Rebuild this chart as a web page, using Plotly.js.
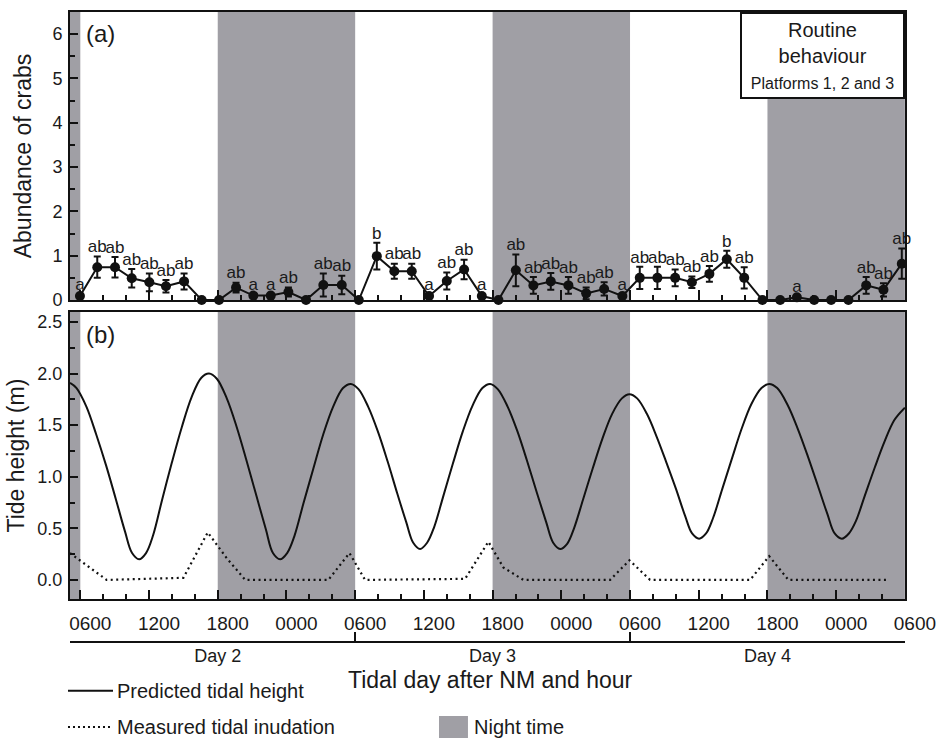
<!DOCTYPE html>
<html>
<head>
<meta charset="utf-8">
<script src="https://cdn.plot.ly/plotly-3.0.1.min.js"></script>
<style>html,body{margin:0;padding:0;background:#fff;}</style>
</head>
<body>
<div id="chart" style="width:940px;height:738px;"></div>
<script>
// ---- Panel (a): abundance of crabs (hours since 00:00 of tidal day 2) ----
const sampleHours = [5.97, 7.48, 9.03, 10.49, 12.03, 13.48, 15.06, 16.60, 18.11, 19.60, 21.11, 22.63,
  24.17, 25.71, 27.22, 28.83, 30.32, 31.89, 33.42, 34.94, 36.45, 38.00, 39.51, 41.06,
  42.51, 44.03, 45.56, 47.08, 48.62, 50.17, 51.74, 53.33, 54.85, 56.39, 57.94, 59.40,
  60.93, 62.45, 63.97, 65.56, 67.11, 68.57, 70.08, 71.56, 73.07, 74.62, 76.13, 77.73];
const abundance = [0.09, 0.74, 0.74, 0.49, 0.40, 0.31, 0.42, 0, 0, 0.28, 0.10, 0.10,
  0.18, 0, 0.34, 0.34, 0, 0.99, 0.65, 0.65, 0.09, 0.43, 0.69, 0.09,
  0, 0.67, 0.33, 0.42, 0.33, 0.15, 0.25, 0.09, 0.50, 0.50, 0.50, 0.40,
  0.59, 0.92, 0.50, 0, 0, 0.06, 0, 0, 0, 0.33, 0.23, 0.82];
const abundanceErr = [0.04, 0.24, 0.23, 0.21, 0.20, 0.14, 0.18, 0, 0, 0.11, 0.04, 0.04,
  0.10, 0, 0.26, 0.21, 0, 0.30, 0.17, 0.17, 0.04, 0.19, 0.22, 0.04,
  0, 0.36, 0.19, 0.19, 0.19, 0.13, 0.15, 0.04, 0.25, 0.25, 0.19, 0.13,
  0.18, 0.19, 0.24, 0, 0, 0.03, 0, 0, 0, 0.19, 0.15, 0.34];
const groupLetters = ['a','ab','ab','ab','ab','ab','ab','','','ab','a','a',
  'ab','','ab','ab','','b','ab','ab','a','ab','ab','a',
  '','ab','ab','ab','ab','ab','ab','a','ab','ab','ab','ab',
  'ab','b','ab','','','a','','','','ab','ab','ab'];

// ---- Panel (b): predicted tidal height ----
const tideHours = [5.10, 5.67, 6.53, 7.39, 8.25, 9.11, 9.90, 10.52, 11.13,
  11.74, 12.35, 13.15, 14.00, 14.86, 15.71, 16.57, 17.24,
  17.92, 18.79, 19.66, 20.53, 21.39, 22.20, 22.82, 23.44,
  24.06, 24.68, 25.48, 26.35, 27.21, 28.08, 28.94, 29.62,
  30.29, 31.13, 31.98, 32.83, 33.67, 34.46, 35.07, 35.67,
  36.28, 36.89, 37.69, 38.54, 39.40, 40.25, 41.11, 41.78,
  42.45, 43.31, 44.17, 45.02, 45.88, 46.68, 47.29, 47.90,
  48.51, 49.11, 49.90, 50.74, 51.59, 52.44, 53.29, 53.95,
  54.62, 55.47, 56.32, 57.17, 58.02, 58.81, 59.42, 60.03,
  60.64, 61.25, 62.05, 62.91, 63.76, 64.62, 65.48, 66.15,
  66.85, 67.74, 68.63, 69.52, 70.41, 71.23, 71.87, 72.50,
  73.11, 73.72, 74.51, 75.37, 76.22, 77.08, 78.00];
const tideHeight = [1.91, 1.86, 1.68, 1.41, 1.11, 0.78, 0.47, 0.26, 0.20,
  0.26, 0.43, 0.78, 1.14, 1.48, 1.77, 1.96, 2.00,
  1.95, 1.76, 1.48, 1.15, 0.81, 0.49, 0.26, 0.20,
  0.26, 0.42, 0.74, 1.08, 1.41, 1.68, 1.86, 1.90,
  1.85, 1.68, 1.44, 1.15, 0.84, 0.56, 0.36, 0.30,
  0.36, 0.51, 0.81, 1.13, 1.44, 1.69, 1.86, 1.90,
  1.85, 1.68, 1.44, 1.15, 0.84, 0.56, 0.36, 0.30,
  0.35, 0.50, 0.78, 1.08, 1.37, 1.61, 1.76, 1.80,
  1.76, 1.61, 1.39, 1.14, 0.88, 0.62, 0.45, 0.40,
  0.45, 0.60, 0.88, 1.18, 1.47, 1.71, 1.86, 1.90,
  1.86, 1.70, 1.47, 1.20, 0.91, 0.64, 0.45, 0.40,
  0.45, 0.57, 0.82, 1.09, 1.34, 1.55, 1.67];

// ---- Panel (b): measured tidal inundation ----
const inundHours = [5.10, 8.30, 15.00, 17.13, 18.79, 20.40, 27.66, 29.50, 30.86, 39.60,
  41.63, 42.94, 44.69, 52.26, 53.95, 55.75, 64.49, 66.15, 67.83, 76.57];
const inundHeight = [0.26, 0.00, 0.02, 0.46, 0.21, 0.00, 0.00, 0.26, 0.00, 0.01,
  0.37, 0.12, 0.00, 0.00, 0.19, 0.00, 0.00, 0.23, 0.00, 0.00];

// ---- Night periods, hour ticks, tidal days ----
const nightStart = [-6, 18, 42, 66];
const nightEnd = [6, 30, 54, 78];
const hourTickVals = [6, 12, 18, 24, 30, 36, 42, 48, 54, 60, 66, 72, 78];
const hourTickText = ['0600','1200','1800','0000','0600','1200','1800','0000','0600','1200','1800','0000','0600'];
const dayCentres = [18, 42, 66];
const dayLabels = ['Day 2', 'Day 3', 'Day 4'];
const dayBounds = [30, 54];

const F = 'Liberation Sans, Arial, Helvetica, sans-serif';
const INK = '#111111';
const TXT = '#1a1a1a';
const SHADE = '#a09fa5';
const xRange = [5.1, 78.01];
const yRangeA = [0, 6.5];
const yRangeB = [-0.19, 2.6];

const traces = [
  {
    x: sampleHours, y: abundance, xaxis: 'x', yaxis: 'y',
    type: 'scatter', mode: 'lines+markers', cliponaxis: false,
    line: {color: INK, width: 2},
    marker: {color: INK, size: 10},
    error_y: {type: 'data', array: abundanceErr, visible: true, color: INK, thickness: 2, width: 3.5}
  },
  {
    x: sampleHours, y: abundance.map((v, i) => v + abundanceErr[i]), xaxis: 'x', yaxis: 'y',
    type: 'scatter', mode: 'text', text: groupLetters, textposition: 'top center',
    cliponaxis: false, textfont: {family: F, size: 17, color: TXT}, hoverinfo: 'skip'
  },
  {
    x: tideHours, y: tideHeight, xaxis: 'x2', yaxis: 'y2',
    type: 'scatter', mode: 'lines', line: {color: INK, width: 2, shape: 'spline', smoothing: 1}
  },
  {
    x: inundHours, y: inundHeight, xaxis: 'x2', yaxis: 'y2',
    type: 'scatter', mode: 'lines', line: {color: INK, width: 2.2, dash: '2px,3.5px'}
  },
  { x: dayBounds, y: [null, null], xaxis: 'x3', yaxis: 'y2', type: 'scatter', mode: 'lines', hoverinfo: 'skip' },
  { x: dayCentres, y: [null, null, null], xaxis: 'x4', yaxis: 'y2', type: 'scatter', mode: 'lines', hoverinfo: 'skip' }
];

const shapes = [];
nightStart.forEach((s, i) => {
  const x0 = Math.max(s, xRange[0]);
  const x1 = Math.min(nightEnd[i], xRange[1]);
  shapes.push({type: 'rect', xref: 'x', yref: 'y', x0: x0, x1: x1, y0: yRangeA[0], y1: yRangeA[1],
    fillcolor: SHADE, line: {width: 0}, layer: 'below'});
  shapes.push({type: 'rect', xref: 'x2', yref: 'y2', x0: x0, x1: x1, y0: yRangeB[0], y1: yRangeB[1],
    fillcolor: SHADE, line: {width: 0}, layer: 'below'});
});
// legend keys
shapes.push({type: 'line', xref: 'paper', yref: 'paper', x0: -0.0024, x1: 0.0515, y0: -0.079, y1: -0.079,
  line: {color: INK, width: 2}});
shapes.push({type: 'line', xref: 'paper', yref: 'paper', x0: -0.0024, x1: 0.0515, y0: -0.1367, y1: -0.1367,
  line: {color: INK, width: 2, dash: '2px,3px'}});
shapes.push({type: 'rect', xref: 'paper', yref: 'paper', x0: 0.4419, x1: 0.4766, y0: -0.1542, y1: -0.1192,
  fillcolor: SHADE, line: {width: 0}});

const axisCommon = {
  showline: true, mirror: true, linewidth: 2, linecolor: INK,
  showgrid: false, zeroline: false, ticks: 'inside', tickwidth: 2, tickcolor: INK
};

const layout = {
  width: 940, height: 738,
  margin: {l: 70, r: 35, t: 12, b: 97},
  paper_bgcolor: '#ffffff', plot_bgcolor: '#ffffff',
  showlegend: false,
  font: {family: F, color: TXT},
  xaxis: Object.assign({}, axisCommon, {
    domain: [0, 1], anchor: 'y', range: xRange,
    tickmode: 'array', tickvals: hourTickVals, ticklen: 10, showticklabels: false,
    minor: {tickmode: 'linear', tick0: 0, dtick: 2, ticks: 'inside', ticklen: 5, tickwidth: 2, tickcolor: INK}
  }),
  yaxis: Object.assign({}, axisCommon, {
    domain: [0.5421, 1], anchor: 'x', range: yRangeA,
    tickmode: 'linear', tick0: 0, dtick: 1, ticklen: 8,
    tickfont: {size: 18, family: F, color: TXT}, ticklabelstandoff: 2,
    minor: {tickmode: 'linear', tick0: 0, dtick: 0.5, ticks: 'inside', ticklen: 5, tickwidth: 2, tickcolor: INK},
    title: {text: 'Abundance of crabs', font: {size: 23, family: F, color: TXT}, standoff: 14}
  }),
  xaxis2: Object.assign({}, axisCommon, {
    domain: [0, 1], anchor: 'y2', range: xRange,
    tickmode: 'array', tickvals: hourTickVals, ticktext: hourTickText, ticklen: 9,
    tickfont: {size: 19, family: F, color: TXT}, ticklabelshift: 10, ticklabelstandoff: 6,
    minor: {tickmode: 'linear', tick0: 0, dtick: 2, ticks: 'inside', ticklen: 5, tickwidth: 2, tickcolor: INK}
  }),
  yaxis2: Object.assign({}, axisCommon, {
    domain: [0.066, 0.5235], anchor: 'x2', range: yRangeB,
    tickmode: 'linear', tick0: 0, dtick: 0.5, tickformat: '.1f', ticklen: 8,
    tickfont: {size: 18, family: F, color: TXT}, ticklabelstandoff: 2,
    minor: {tickmode: 'linear', tick0: 0, dtick: 0.25, ticks: 'inside', ticklen: 5, tickwidth: 2, tickcolor: INK},
    title: {text: 'Tide height (m)', font: {size: 23, family: F, color: TXT}, standoff: 6}
  }),
  xaxis3: {
    overlaying: 'x2', anchor: 'free', position: 0, side: 'bottom', range: xRange,
    showline: true, linewidth: 1.5, linecolor: INK, showgrid: false, zeroline: false,
    tickmode: 'array', tickvals: dayBounds, ticktext: ['', ''], ticks: 'inside', ticklen: 9,
    tickwidth: 1.5, tickcolor: INK
  },
  xaxis4: {
    overlaying: 'x2', anchor: 'free', position: 0, side: 'bottom', range: xRange,
    showline: false, showgrid: false, zeroline: false,
    tickmode: 'array', tickvals: dayCentres, ticktext: dayLabels, ticks: '',
    tickfont: {size: 18, family: F, color: TXT}, ticklabelstandoff: 2
  },
  shapes: shapes,
  annotations: [
    {xref: 'paper', yref: 'paper', x: 0.017, y: 0.966, xanchor: 'left', yanchor: 'middle',
      text: '(a)', showarrow: false, font: {size: 24, family: F, color: TXT}},
    {xref: 'paper', yref: 'paper', x: 0.017, y: 0.4865, xanchor: 'left', yanchor: 'middle',
      text: '(b)', showarrow: false, font: {size: 24, family: F, color: TXT}},
    {xref: 'paper', yref: 'paper', x: 1, y: 1, xanchor: 'right', yanchor: 'top',
      text: 'Routine<br>behaviour<br><span style="font-size:16px">Platforms 1, 2 and 3</span>',
      showarrow: false, align: 'center', font: {size: 20, family: F, color: TXT},
      bgcolor: '#ffffff', bordercolor: INK, borderwidth: 2, borderpad: 3, width: 155, height: 77},
    {xref: 'paper', yref: 'paper', x: 0.503, y: -0.062, xanchor: 'center', yanchor: 'middle',
      text: 'Tidal day after NM and hour', showarrow: false, font: {size: 23, family: F, color: TXT}},
    {xref: 'paper', yref: 'paper', x: 0.0539, y: -0.079, xanchor: 'left', yanchor: 'middle',
      text: 'Predicted tidal height', showarrow: false, font: {size: 20, family: F, color: TXT}},
    {xref: 'paper', yref: 'paper', x: 0.0539, y: -0.1367, xanchor: 'left', yanchor: 'middle',
      text: 'Measured tidal inudation', showarrow: false, font: {size: 20, family: F, color: TXT}},
    {xref: 'paper', yref: 'paper', x: 0.4814, y: -0.1367, xanchor: 'left', yanchor: 'middle',
      text: 'Night time', showarrow: false, font: {size: 20, family: F, color: TXT}}
  ]
};

Plotly.newPlot('chart', traces, layout, {staticPlot: true, displayModeBar: false});
</script>
</body>
</html>
